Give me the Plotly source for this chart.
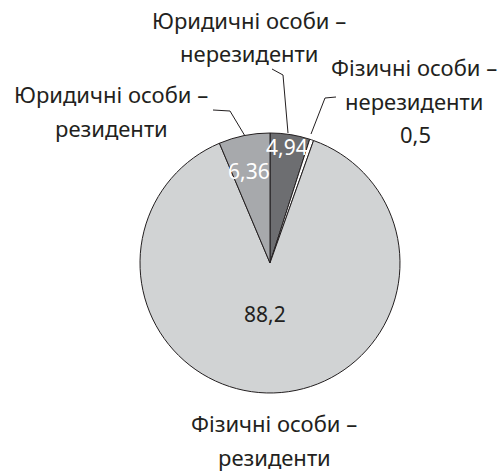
import plotly.graph_objects as go

labels = ["Юридичні особи –<br>нерезиденти", "Фізичні особи –<br>нерезиденти",
          "Фізичні особи –<br>резиденти", "Юридичні особи –<br>резиденти"]
values = [4.94, 0.5, 88.2, 6.36]
colors = ["#6d6e71", "#ffffff", "#d1d3d4", "#a7a9ac"]

W, H = 503, 474
cx, cy, r = 270, 263, 130

fig = go.Figure()
fig.add_trace(go.Pie(
    labels=labels, values=values, sort=False, direction="clockwise", rotation=0,
    marker=dict(colors=colors, line=dict(color="#231f20", width=1)),
    textinfo="none", hoverinfo="skip", showlegend=False,
    domain=dict(x=[(cx - r) / W, (cx + r) / W], y=[(H - cy - r) / H, (H - cy + r) / H]),
))

def fmt(v):
    return str(v).replace(".", ",")

font = "Noto Sans"
fs = 22
txt = "#231f20"
ann = []

def add_label(text, x, ys):
    for line, y in zip(text.split("<br>"), ys):
        ann.append(dict(x=x, y=y, text=line))

add_label(labels[0], 249, [20, 53])
add_label(labels[1], 414, [67, 101])
add_label(labels[3], 111, [94, 128])
add_label(labels[2], 274, [423, 457])
ann.append(dict(x=415, y=134, text=fmt(values[1])))
# value labels
ann.append(dict(x=287, y=147, text=fmt(values[0]), font=dict(color="white", size=21, family=font)))
ann.append(dict(x=249, y=171, text=fmt(values[3]), font=dict(color="white", size=21, family=font)))
ann.append(dict(x=265, y=314, text=fmt(values[2]), font=dict(color=txt, size=21, family=font)))
for a in ann:
    a.update(xref="x", yref="y", showarrow=False)
    a.setdefault("font", dict(color=txt, size=fs, family=font))

line = dict(color="#231f20", width=1)
fig.update_layout(
    width=W, height=H, margin=dict(l=0, r=0, t=0, b=0),
    paper_bgcolor="white", plot_bgcolor="rgba(0,0,0,0)",
    xaxis=dict(range=[0, W], visible=False, fixedrange=True),
    yaxis=dict(range=[H, 0], visible=False, fixedrange=True),
    annotations=ann,
    shapes=[
        dict(type="path", path="M 272 69 L 283 75 L 288 133", line=line, xref="x", yref="y"),
        dict(type="path", path="M 336 97 L 325 98 L 311 134", line=line, xref="x", yref="y"),
        dict(type="path", path="M 213 110 L 230 111 L 245 136", line=line, xref="x", yref="y"),
    ],
)
fig.write_html("out.html")
